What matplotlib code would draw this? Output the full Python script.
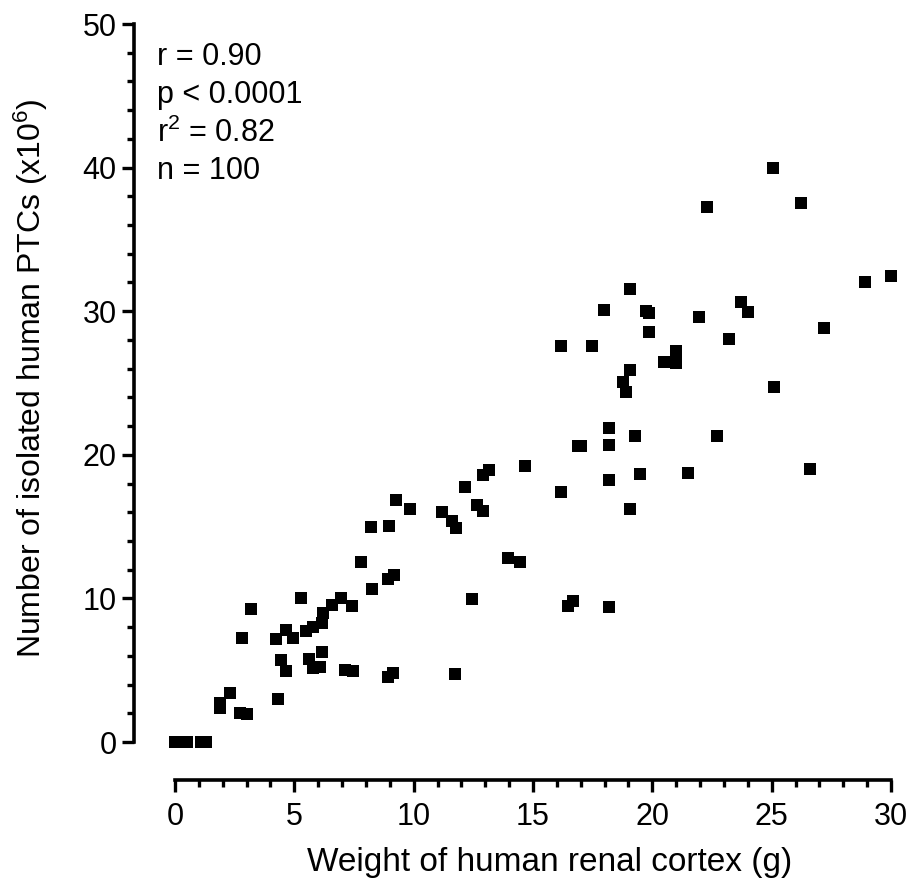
import numpy as np
import matplotlib
matplotlib.use('Agg')
import matplotlib.pyplot as plt
from matplotlib.ticker import MultipleLocator

plt.rcParams['font.family'] = ['Liberation Sans', 'DejaVu Sans']

# weight of renal cortex (g) vs isolated PTCs (x10^6)
weight = [0.0, 0.5, 1.1, 1.3, 1.9, 1.9, 2.32, 2.72, 3.03, 4.30,
          2.81, 3.20, 5.28, 4.23, 4.65, 4.93, 4.43, 4.65, 5.61, 5.80,
          6.07, 6.17, 5.47, 5.77, 6.17, 6.21, 6.59, 6.95, 7.43, 7.12,
          7.44, 8.94, 9.15, 11.73, 7.78, 8.25, 8.94, 9.17, 8.22, 8.95,
          9.24, 9.85, 11.17, 11.59, 11.76, 12.15, 12.64, 12.92, 12.89, 13.17,
          12.46, 13.96, 14.45, 14.65, 16.17, 16.48, 16.69, 18.18, 16.9, 17.0,
          18.18, 18.18, 19.28, 22.69, 19.48, 21.48, 26.60, 18.18, 19.07, 16.18,
          17.47, 17.97, 19.07, 19.73, 19.87, 19.87, 21.94, 23.70, 23.99, 23.21,
          27.20, 21.0, 20.50, 21.0, 19.07, 18.77, 18.89, 25.09, 22.29, 26.21,
          25.07, 28.92, 30.02]
cells = [0.0, 0.0, 0.0, 0.0, 2.7, 2.35, 3.39, 2.0, 1.95, 2.97,
         7.22, 9.24, 10.05, 7.17, 7.80, 7.24, 5.71, 4.94, 5.76, 5.17,
         5.24, 6.27, 7.75, 8.03, 8.26, 9.0, 9.54, 10.05, 9.47, 5.01,
         4.94, 4.55, 4.83, 4.74, 12.51, 10.65, 11.37, 11.63, 14.95, 15.04,
         16.85, 16.23, 16.04, 15.41, 14.90, 17.74, 16.53, 16.11, 18.59, 18.94,
         9.94, 12.81, 12.53, 19.22, 17.39, 9.47, 9.80, 9.38, 20.63, 20.63,
         20.66, 21.84, 21.33, 21.33, 18.64, 18.73, 19.03, 18.25, 16.23, 27.58,
         27.58, 30.06, 31.55, 30.04, 29.9, 28.53, 29.57, 30.66, 29.94, 28.06,
         28.85, 27.25, 26.48, 26.41, 25.93, 25.07, 24.37, 24.70, 37.23, 37.56,
         40.0, 32.05, 32.45]
stats = ['r = 0.90', 'p < 0.0001', r'$\mathregular{r^2}$ = 0.82', 'n = 100']

fig = plt.figure(figsize=(9.15, 8.81), dpi=100)
ax = fig.add_axes([175/915, 139/881, 716/915, 718/881])

ax.scatter(weight, cells, marker='s', s=64, color='black', linewidths=0, clip_on=False, zorder=3)

ax.set_xlim(0, 30)
ax.set_ylim(0, 50)
ax.xaxis.set_major_locator(MultipleLocator(5))
ax.xaxis.set_minor_locator(MultipleLocator(1))
ax.yaxis.set_major_locator(MultipleLocator(10))
ax.yaxis.set_minor_locator(MultipleLocator(2))

for side in ['top', 'right']:
    ax.spines[side].set_visible(False)
ax.spines['left'].set_position(('outward', 29.5))
ax.spines['bottom'].set_position(('outward', 27.5))
for side in ['left', 'bottom']:
    ax.spines[side].set_linewidth(2.6)
    ax.spines[side].set_capstyle('projecting')

ax.tick_params(which='major', length=8.5, width=2.4, labelsize=22, color='black')
ax.tick_params(which='minor', length=5, width=2.4, color='black')
ax.tick_params(axis='x', which='major', pad=7)
ax.tick_params(axis='y', which='major', pad=4)

ax.set_xlabel('Weight of human renal cortex (g)', fontsize=24)
ax.set_ylabel(r'Number of isolated human PTCs (x10$\mathregular{^6}$)', fontsize=23)
ax.xaxis.set_label_coords((550 - 175) / 716, (742 - 862) / 718)
ax.xaxis.label.set_verticalalignment('center')
ax.yaxis.set_label_coords((31 - 175) / 716, (742 - 378) / 718)
ax.yaxis.label.set_verticalalignment('center')

for i, txt in enumerate(stats):
    fig.text(157/915, 1 - (57 + 38*i)/881, txt, fontsize=22, va='center', ha='left')

fig.savefig('out.png', dpi=100)
